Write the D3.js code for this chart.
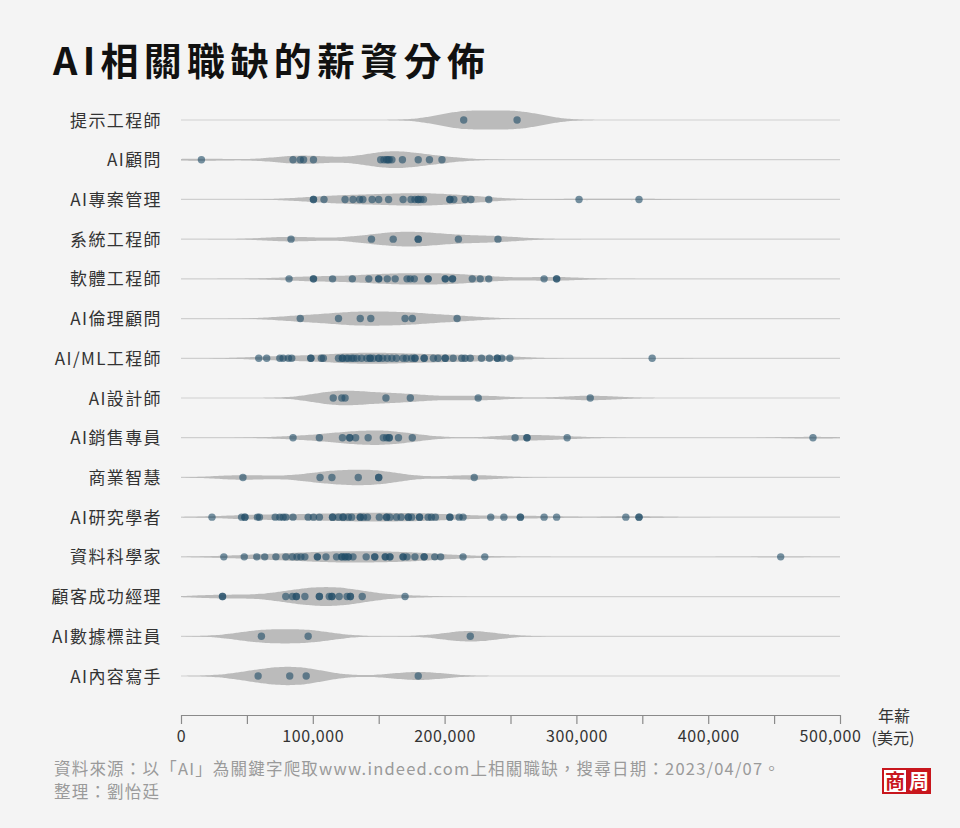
<!DOCTYPE html>
<html>
<head>
<meta charset="utf-8">
<script src="https://cdn.jsdelivr.net/npm/d3@7"></script>
<style>
  body { margin: 0; background: #f4f4f4; }
  svg { display: block; font-family: "Noto Sans CJK TC", "Noto Sans", sans-serif; }
</style>
</head>
<body>
<div id="chart"></div>
<script>
// 各職缺年薪 (美元)
const promptEngineer = [214500, 255000];
const aiConsultant = [15500, 85000, 90500, 93000, 100500, 151500, 154000, 156000, 157000, 158000, 160000, 168000, 180000, 188500, 198000];
const aiProjectManager = [100500, 100500, 108500, 124500, 130500, 135500, 138000, 145000, 150000, 157500, 168500, 174500, 177500, 180000, 180000, 182000, 184000, 204000, 204000, 207000, 215500, 220000, 233500, 302000, 347500];
const systemsEngineer = [83500, 144500, 161000, 180000, 180000, 210500, 240500];
const softwareEngineer = [82000, 100500, 100500, 115000, 130000, 142500, 150000, 150000, 156500, 162500, 171500, 174000, 177000, 187500, 187500, 200500, 200500, 206000, 206000, 221000, 227000, 233500, 275500, 285000, 285000];
const aiEthics = [90500, 119500, 136000, 144000, 170000, 175500, 209500];
const mlEngineer = [59000, 65000, 75000, 77500, 81500, 84000, 98500, 98500, 106500, 108000, 119500, 122500, 122500, 125500, 127000, 129500, 131000, 133500, 137000, 141000, 143500, 143500, 146000, 150000, 150000, 153000, 156500, 160000, 163500, 168500, 171000, 175000, 177500, 177500, 184500, 184500, 191500, 195000, 200500, 200500, 206500, 213000, 215500, 219500, 228000, 234000, 240000, 240000, 243500, 249500, 357500];
const aiDesigner = [115500, 122000, 124500, 155500, 174000, 225500, 310500];
const aiSales = [85000, 105000, 122500, 128000, 128000, 132500, 142000, 153500, 156000, 158000, 158000, 165000, 175500, 253500, 262500, 262500, 293000, 479500];
const businessIntel = [47000, 105500, 114500, 134500, 150000, 150000, 222500];
const aiResearcher = [23500, 46000, 48500, 48500, 58000, 59500, 71500, 75000, 77500, 79500, 85000, 96500, 100500, 105000, 115000, 115000, 119500, 123000, 123000, 127000, 129500, 136000, 136000, 138500, 141500, 150500, 156000, 156000, 158500, 163500, 167000, 172500, 172500, 175000, 181000, 181000, 187500, 190000, 193000, 204000, 204000, 211000, 214000, 235000, 245000, 257500, 257500, 275500, 285000, 337500, 347500, 347500];
const dataScientist = [32500, 48000, 57500, 63500, 72000, 79500, 84500, 88000, 91000, 94000, 103500, 103500, 110000, 118000, 122000, 122000, 124500, 124500, 127000, 127000, 130500, 140500, 147000, 147000, 155000, 155000, 158500, 158500, 168500, 168500, 171500, 177500, 184500, 184500, 192500, 197000, 214000, 230500, 455000];
const customerSuccess = [31500, 31500, 79500, 84500, 87500, 87500, 94000, 105000, 105000, 112500, 114500, 114500, 120000, 126000, 128500, 128500, 137500, 170000];
const dataLabeler = [61000, 96500, 219500];
const contentWriter = [58500, 82500, 95000, 180000];

const categories = ["提示工程師", "AI顧問", "AI專案管理", "系統工程師", "軟體工程師", "AI倫理顧問", "AI/ML工程師", "AI設計師", "AI銷售專員", "商業智慧", "AI研究學者", "資料科學家", "顧客成功經理", "AI數據標註員", "AI內容寫手"];
const salaries = [promptEngineer, aiConsultant, aiProjectManager, systemsEngineer, softwareEngineer, aiEthics, mlEngineer, aiDesigner, aiSales, businessIntel, aiResearcher, dataScientist, customerSuccess, dataLabeler, contentWriter];
const tickValues = [0, 50000, 100000, 150000, 200000, 250000, 300000, 350000, 400000, 450000, 500000];

const width = 960, height = 828;
const bandwidth = 20000;

const svg = d3.select("#chart").append("svg")
    .attr("width", width)
    .attr("height", height);

svg.append("rect").attr("width", width).attr("height", height).attr("fill", "#f4f4f4");

const x = d3.scaleLinear().domain([0, 500000]).range([181, 840]);
const y = d3.scalePoint().domain(categories).range([120, 676]);

// kernel density, gaussian
function kde(values) {
    const grid = d3.range(0, 500001, 2000);
    return grid.map(function (g) {
        const s = d3.sum(values, function (v) {
            const u = (g - v) / bandwidth;
            return Math.exp(-0.5 * u * u);
        });
        return [g, s / (values.length * bandwidth * Math.sqrt(2 * Math.PI))];
    });
}

const densities = salaries.map(kde);
const maxDensity = d3.max(densities, function (d) { return d3.max(d, function (p) { return p[1]; }); });
const w = d3.scaleLinear().domain([0, maxDensity]).range([0, 9.5]);

// gridlines
svg.append("g")
    .selectAll("line")
    .data(categories)
    .enter()
    .append("line")
    .attr("x1", x(0))
    .attr("x2", x(500000))
    .attr("y1", function (d) { return y(d); })
    .attr("y2", function (d) { return y(d); })
    .attr("stroke", "#cfcfcf")
    .attr("stroke-width", 1.2);

// violins
const area = d3.area()
    .x(function (p) { return x(p[0]); })
    .curve(d3.curveBasis);

svg.append("g")
    .selectAll("path")
    .data(densities)
    .enter()
    .append("path")
    .attr("fill", "#bbbbbb")
    .attr("d", function (d, i) {
        const cy = y(categories[i]);
        return area
            .y0(function (p) { return cy - w(p[1]); })
            .y1(function (p) { return cy + w(p[1]); })(d);
    });

// dots
const points = [];
salaries.forEach(function (vals, i) {
    vals.forEach(function (v) { points.push({ cat: categories[i], value: v }); });
});

svg.append("g")
    .selectAll("circle")
    .data(points)
    .enter()
    .append("circle")
    .attr("cx", function (d) { return x(d.value); })
    .attr("cy", function (d) { return y(d.cat); })
    .attr("r", 3.7)
    .attr("fill", "#244f69")
    .attr("fill-opacity", 0.62);

// category labels
svg.append("g")
    .selectAll("text")
    .data(categories)
    .enter()
    .append("text")
    .attr("x", 162)
    .attr("y", function (d) { return y(d) + 6.5; })
    .attr("text-anchor", "end")
    .attr("font-size", "17px")
    .attr("letter-spacing", "1.4px")
    .attr("fill", "#333")
    .text(function (d) { return d; });

// x axis
const xAxis = svg.append("g")
    .attr("transform", "translate(0,715)")
    .call(d3.axisBottom(x)
        .tickValues(tickValues)
        .tickSize(9)
        .tickSizeOuter(0)
        .tickFormat(function (d) { return d % 100000 === 0 ? d3.format(",")(d) : ""; }));

xAxis.select(".domain").attr("stroke", "#8a8a8a").attr("stroke-width", 1.2);
xAxis.selectAll(".tick line").attr("stroke", "#8a8a8a").attr("stroke-width", 1.2);
xAxis.selectAll(".tick text")
    .attr("y", 16)
    .attr("dx", function (d) { return d === 500000 ? -10 : 0; })
    .attr("font-family", "\"Noto Sans CJK TC\", sans-serif")
    .attr("font-size", "16px")
    .attr("letter-spacing", "0.6px")
    .attr("fill", "#333");

svg.append("text")
    .attr("x", 894).attr("y", 722)
    .attr("text-anchor", "middle")
    .attr("font-size", "16px")
    .attr("fill", "#333")
    .text("年薪");
svg.append("text")
    .attr("x", 893).attr("y", 744)
    .attr("text-anchor", "middle")
    .attr("font-size", "16px")
    .attr("fill", "#333")
    .text("(美元)");

// title
svg.append("text")
    .attr("x", 53).attr("y", 75)
    .attr("font-size", "38px")
    .attr("font-weight", 700)
    .attr("letter-spacing", "5.3px")
    .attr("fill", "#111")
    .text("AI相關職缺的薪資分佈");

// footer
svg.append("text")
    .attr("x", 54).attr("y", 775)
    .attr("font-size", "16.5px")
    .attr("letter-spacing", "1.2px")
    .attr("fill", "#9a9a9a")
    .text("資料來源：以「AI」為關鍵字爬取www.indeed.com上相關職缺，搜尋日期：2023/04/07。");
svg.append("text")
    .attr("x", 54).attr("y", 798)
    .attr("font-size", "16.5px")
    .attr("letter-spacing", "1.2px")
    .attr("fill", "#9a9a9a")
    .text("整理：劉怡廷");

// logo
const logo = svg.append("g").attr("transform", "translate(882,768)");
logo.append("rect").attr("width", 49).attr("height", 26).attr("fill", "#c8161d");
logo.append("rect").attr("x", 2).attr("y", 2).attr("width", 22).attr("height", 22).attr("fill", "#fff");
logo.append("text").attr("x", 13).attr("y", 20.5).attr("text-anchor", "middle")
    .attr("font-size", "20px").attr("font-weight", 700).attr("fill", "#c8161d").text("商");
logo.append("text").attr("x", 37).attr("y", 20.5).attr("text-anchor", "middle")
    .attr("font-size", "20px").attr("font-weight", 700).attr("fill", "#fff").text("周");
</script>
</body>
</html>
